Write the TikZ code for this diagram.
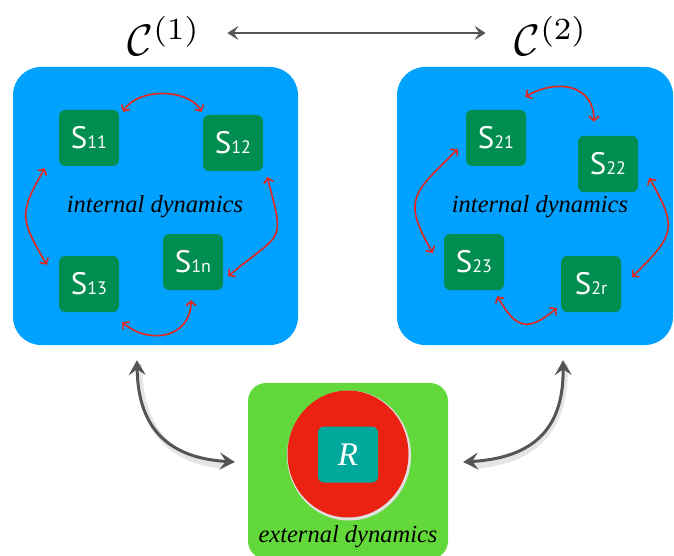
\documentclass[tikz,border=0pt]{standalone}
\usepackage{fontspec}
\setmainfont{Liberation Serif}
\newfontfamily\labelfont{PT Sans}
\usetikzlibrary{arrows.meta,calc,shapes.geometric}
\definecolor{boxblue}{RGB}{0,161,255}
\definecolor{nodegreen}{RGB}{0,142,80}
\definecolor{lightgreen}{RGB}{98,216,58}
\definecolor{circred}{RGB}{235,34,18}
\definecolor{rteal}{RGB}{0,168,155}
\definecolor{arrred}{RGB}{230,38,28}
\definecolor{arrgray}{RGB}{85,85,85}
\newcommand{\slabel}[2]{{\labelfont\fontsize{31}{31}\selectfont #1\fontsize{18}{18}\selectfont #2}}
\begin{document}
\begin{tikzpicture}[x=1pt,y=1pt,
  bigbox/.style={fill=boxblue,rounded corners=28pt,inner sep=0pt},
  snode/.style={fill=nodegreen,rounded corners=6pt,minimum width=60pt,minimum height=56pt,inner sep=0pt,text=white},
  dyn/.style={font=\fontsize{24.5}{24.5}\selectfont\itshape},
  redarr/.style={draw=arrred,line width=1.6pt,{Straight Barb[length=4.5pt,width=10pt]}-{Straight Barb[length=4.5pt,width=10pt]}},
  grayarr/.style={draw=arrgray,line width=3pt,{Stealth[length=15pt,width=17pt,inset=6pt]}-{Stealth[length=15pt,width=17pt,inset=6pt]}},
  topgray/.style={draw=arrgray,line width=2.4pt,{Stealth[length=11pt,width=14pt,inset=4.5pt]}-{Stealth[length=11pt,width=14pt,inset=4.5pt]}},
  shadowline/.style={draw=black!10,line width=6pt}
]
\useasboundingbox (0,0) rectangle (674,-556);

% big boxes
\node[bigbox,minimum width=285pt,minimum height=278pt] (box1) at (155.5,-206) {};
\node[bigbox,minimum width=276pt,minimum height=278pt] (box2) at (535,-206) {};
\node[fill=lightgreen,rounded corners=18pt,minimum width=200pt,minimum height=176pt,inner sep=0pt] (gbox) at (348,-471) {};

% titles
\node[inner sep=0pt,scale=4.4] (c1) at (164,-36) {$\mathcal{C}^{(1)}$};
\node[inner sep=0pt,scale=4.4] (c2) at (551,-36) {$\mathcal{C}^{(2)}$};
\draw[topgray,shorten <=26pt,shorten >=28pt] ([yshift=3pt]c1.east) -- ([yshift=3pt]c2.west);

% left cluster
\node[snode] (s11) at (89,-138) {\slabel{S}{11}};
\node[snode] (s12) at (233,-143) {\slabel{S}{12}};
\node[snode] (s13) at (89,-284) {\slabel{S}{13}};
\node[snode] (s1n) at (193,-262) {\slabel{S}{1n}};
\node[dyn] (int1) at (155,-207) {internal dynamics};

\draw[redarr] ([shift={(4,-2)}]s11.north east) to[out=60,in=120,looseness=0.9] ([shift={(-1,3)}]s12.north west);
\draw[redarr] ([shift={(-14,-2)}]s11.south west) to[out=240,in=120,looseness=1.4] ([shift={(-12,-9)}]s13.north west);
\draw[redarr] ([shift={(4,-6)}]s12.south east) to[out=-75,in=40,looseness=1.7] ([shift={(5,14)}]s1n.south east);
\draw[redarr] ([shift={(3,-10)}]s13.south east) to[out=-40,in=-90,looseness=1.3] ([shift={(-2,-10)}]s1n.south);

% right cluster
\node[snode] (s21) at (496,-138) {\slabel{S}{21}};
\node[snode] (s22) at (608,-164) {\slabel{S}{22}};
\node[snode] (s23) at (474,-262) {\slabel{S}{23}};
\node[snode] (s2r) at (591,-284) {\slabel{S}{2r}};
\node[dyn] (int2) at (540,-207) {internal dynamics};

\draw[redarr] ([shift={(-1,13)}]s21.north east) to[out=30,in=90,looseness=1.3] ([shift={(-14,14)}]s22.north);
\draw[redarr] ([shift={(-8,-11)}]s21.west) to[out=225,in=120,looseness=1.5] ([shift={(-11,9)}]s23.west);
\draw[redarr] ([shift={(11,-14)}]s22.east) to[out=-60,in=45,looseness=1.5] ([shift={(11,7)}]s2r.east);
\draw[redarr] ([shift={(-7,-6)}]s23.south east) to[out=-60,in=-140,looseness=1.6] ([shift={(-4,-24)}]s2r.west);

% external
\fill[black!12] (349,-455.5) ellipse (62pt and 65pt);
\node[fill=circred,ellipse,minimum width=121pt,minimum height=127pt,inner sep=0pt] (rcirc) at (348,-454) {};
\node[fill=rteal,rounded corners=6pt,minimum width=60pt,minimum height=56pt,inner sep=0pt,text=white] (rnode) at (348,-454.5) {\fontsize{33}{33}\selectfont\itshape R};
\node[dyn] (ext) at (348,-537) {external dynamics};

% gray arrows
\coordinate (a1) at ([shift={(-18.5,-15)}]box1.south);
\coordinate (b1) at ([shift={(-13,9)}]gbox.west);
\coordinate (a2) at ([shift={(28,-15)}]box2.south);
\coordinate (b2) at ([shift={(15,9)}]gbox.east);
\draw[shadowline] ([shift={(2,-4)}]a1) .. controls (140,-432) and (172,-461) .. ([shift={(-10,-4)}]b1);
\draw[shadowline] ([shift={(2,-4)}]a2) .. controls (566,-432) and (534,-461) .. ([shift={(10,-4)}]b2);
\draw[grayarr] (a1) .. controls (138,-430) and (170,-458) .. (b1);
\draw[grayarr] (a2) .. controls (564,-430) and (532,-458) .. (b2);
\end{tikzpicture}
\end{document}
